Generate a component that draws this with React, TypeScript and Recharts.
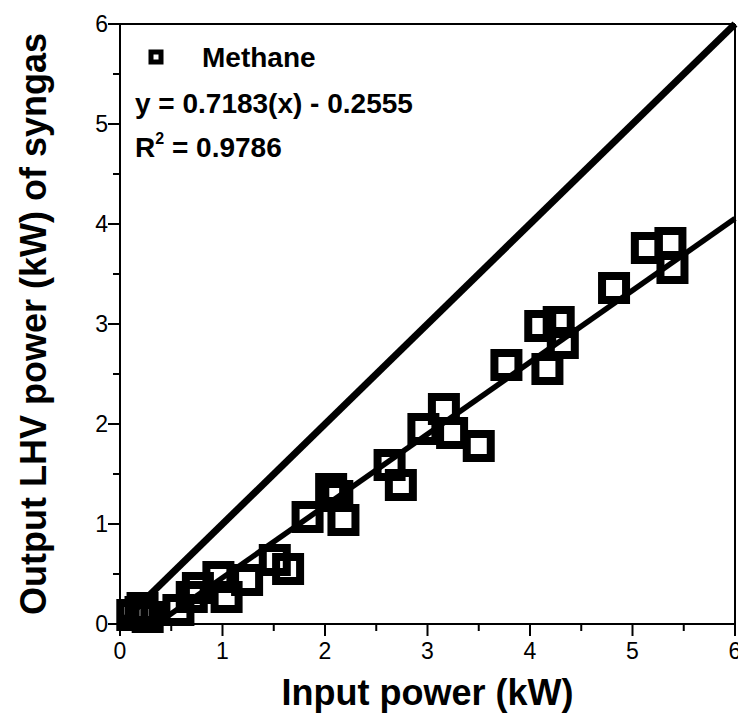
import { Label, Legend, ReferenceLine, Scatter, ScatterChart, XAxis, YAxis } from "recharts";

const FONT = "'Liberation Sans', Arial, Helvetica, sans-serif";

// measured samples (kW)
const inputPower = [
  0.12, 0.2, 0.27, 0.22, 0.57, 0.7, 0.76, 0.96, 1.04, 1.24, 1.51, 1.64, 1.83, 2.06, 2.12, 2.18, 2.63, 2.74,
  2.96, 3.16, 3.24, 3.5, 3.77, 4.17, 4.1, 4.28, 4.32, 4.82, 5.14, 5.37, 5.39,
];
const outputPower = [
  0.09, 0.12, 0.07, 0.16, 0.14, 0.27, 0.36, 0.47, 0.27, 0.44, 0.64, 0.55, 1.07, 1.35, 1.28, 1.04, 1.59, 1.39,
  1.95, 2.15, 1.91, 1.78, 2.59, 2.55, 2.98, 3.02, 2.81, 3.36, 3.76, 3.81, 3.56,
];

const axisTicks = [0, 0.5, 1, 1.5, 2, 2.5, 3, 3.5, 4, 4.5, 5, 5.5, 6];
const identityLine = [
  { x: 0, y: 0 },
  { x: 6, y: 6 },
];
const fitLine = [
  { x: 0.356, y: 0 },
  { x: 6, y: 4.054 },
];
const seriesName = "Methane";
const fitEquation = "y = 0.7183(x) - 0.2555";
const fitR2 = "0.9786";

const points = inputPower.map((x, i) => ({ x, y: outputPower[i] }));

const isMajor = (v: number) => Number.isInteger(v);

function BottomTick({ x, y, payload }: any) {
  const major = isMajor(payload.value);
  return (
    <g>
      <line x1={x} x2={x} y1={y} y2={y + (major ? 12 : 7)} stroke="#000" strokeWidth={2} />
      {major && (
        <text x={x} y={y + 35} textAnchor="middle" fontSize={23} fontFamily={FONT} fill="#000">
          {payload.value}
        </text>
      )}
    </g>
  );
}

function LeftTick({ x, y, payload }: any) {
  const major = isMajor(payload.value);
  return (
    <g>
      <line x1={x} x2={x - (major ? 12 : 7)} y1={y} y2={y} stroke="#000" strokeWidth={2} />
      {major && (
        <text x={x - 12} y={y + 8} textAnchor="end" fontSize={23} fontFamily={FONT} fill="#000">
          {payload.value}
        </text>
      )}
    </g>
  );
}

function TopTick({ x, y, payload }: any) {
  if (isMajor(payload.value)) return <g />;
  return <line x1={x} x2={x} y1={y} y2={y + 4} stroke="#000" strokeWidth={1.5} />;
}

function RightTick({ x, y }: any) {
  return <line x1={x} x2={x + 3} y1={y} y2={y} stroke="#000" strokeWidth={1.5} />;
}

function SquareMarker({ cx, cy }: any) {
  if (cx == null || cy == null) return <g />;
  return <rect x={cx - 12} y={cy - 12} width={24} height={24} fill="none" stroke="#000" strokeWidth={8} />;
}

function LegendBox() {
  return (
    <svg width={738} height={180} style={{ display: "block", overflow: "visible" }}>
      <rect x={151} y={52} width={10} height={10} fill="none" stroke="#000" strokeWidth={5} />
      <text x={202} y={67} fontSize={28} fontWeight="bold" fontFamily={FONT} fill="#000">
        {seriesName}
      </text>
      <text x={135} y={113} fontSize={28} fontWeight="bold" fontFamily={FONT} fill="#000">
        {fitEquation}
      </text>
      <text x={135} y={157} fontSize={28} fontWeight="bold" fontFamily={FONT} fill="#000">
        R
        <tspan fontSize={16} dy={-13}>
          2
        </tspan>
        <tspan dy={13}> = {fitR2}</tspan>
      </text>
    </svg>
  );
}

function XTitle({ viewBox }: any) {
  const vb = viewBox ?? { x: 120, y: 624, width: 615, height: 99 };
  return (
    <text x={vb.x + vb.width / 2} y={vb.y + 81} textAnchor="middle" fontSize={36} fontWeight="bold" fontFamily={FONT} fill="#000">
      Input power (kW)
    </text>
  );
}

function YTitle({ viewBox }: any) {
  const vb = viewBox ?? { x: 0, y: 24, width: 120, height: 600 };
  const cx = vb.x + 46;
  const cy = vb.y + vb.height / 2;
  return (
    <text x={cx} y={cy} transform={`rotate(-90 ${cx} ${cy})`} textAnchor="middle" fontSize={36} fontWeight="bold" fontFamily={FONT} fill="#000">
      Output LHV power (kW) of syngas
    </text>
  );
}

export default function App() {
  return (
    <div style={{ position: "absolute", left: 0, top: 0, width: 738, height: 723, background: "#fff" }}>
      <ScatterChart width={738} height={723} margin={{ top: 0, right: 0, bottom: 0, left: 0 }}>
        <XAxis
          dataKey="x"
          type="number"
          domain={[0, 6]}
          ticks={axisTicks}
          height={99}
          axisLine={{ stroke: "#000", strokeWidth: 2 }}
          tickLine={false}
          tickSize={0}
          tickMargin={0}
          tick={BottomTick}
          interval={0}
        >
          <Label content={XTitle} />
        </XAxis>
        <XAxis
          xAxisId="top"
          orientation="top"
          type="number"
          domain={[0, 6]}
          ticks={axisTicks}
          height={24}
          axisLine={{ stroke: "#000", strokeWidth: 2 }}
          tickLine={false}
          tickSize={0}
          tickMargin={0}
          tick={TopTick}
          interval={0}
        />
        <YAxis
          dataKey="y"
          type="number"
          domain={[0, 6]}
          ticks={axisTicks}
          width={120}
          axisLine={{ stroke: "#000", strokeWidth: 2 }}
          tickLine={false}
          tickSize={0}
          tickMargin={0}
          tick={LeftTick}
          interval={0}
        >
          <Label content={YTitle} />
        </YAxis>
        <YAxis
          yAxisId="right"
          orientation="right"
          type="number"
          domain={[0, 6]}
          ticks={axisTicks}
          width={3}
          axisLine={{ stroke: "#000", strokeWidth: 2 }}
          tickLine={false}
          tickSize={0}
          tickMargin={0}
          tick={RightTick}
          interval={0}
        />
        <Scatter name={seriesName} data={points} shape={SquareMarker} isAnimationActive={false} />
        <ReferenceLine segment={identityLine} stroke="#000" strokeWidth={7} />
        <ReferenceLine segment={fitLine} stroke="#000" strokeWidth={5.5} />
        <Legend
          layout="vertical"
          align="center"
          verticalAlign="middle"
          wrapperStyle={{ left: 0, top: 0, width: 738, height: 180, pointerEvents: "none" }}
          content={() => <LegendBox />}
        />
      </ScatterChart>
    </div>
  );
}
